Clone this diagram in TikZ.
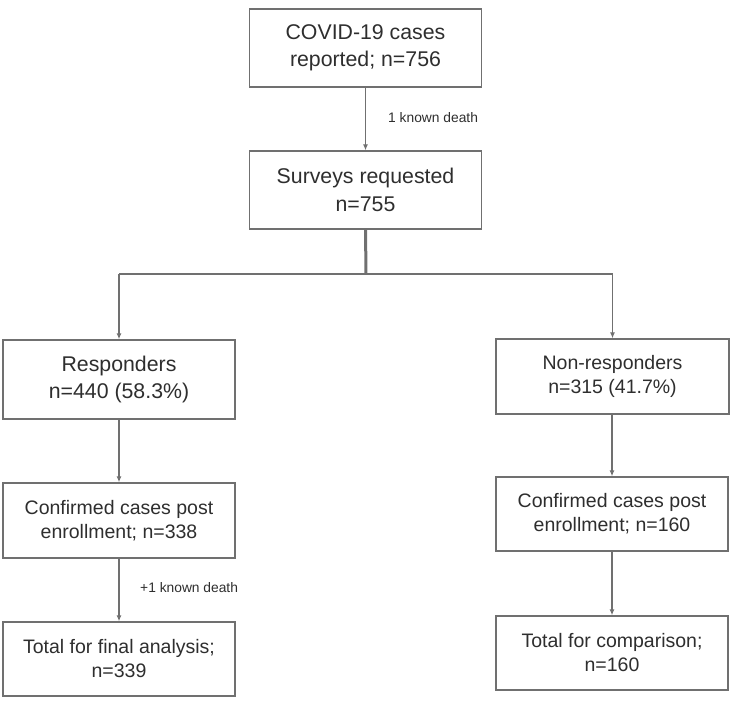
\documentclass[tikz,border=0pt]{standalone}
\usepackage{fontspec}
\setmainfont{Liberation Sans}
\usetikzlibrary{arrows.meta}
\definecolor{boxline}{HTML}{707070}
\definecolor{txt}{HTML}{2E2E2E}
\begin{document}
\begin{tikzpicture}[x=1pt,y=-1pt,
  boxbig/.style={draw=boxline,line width=1.3pt,align=center,inner sep=0pt,
    text=txt,font=\fontsize{21.3}{27.5}\selectfont,minimum width=232pt},
  boxsmall/.style={draw=boxline,line width=1.3pt,align=center,inner sep=0pt,
    text=txt,font=\fontsize{19.5}{24}\selectfont,minimum width=232pt},
  conn/.style={draw=boxline,line width=1.2pt,-{Latex[length=6pt,width=5pt]}},
  lbl/.style={text=txt,font=\fontsize{13.8}{16}\selectfont,anchor=west,inner sep=0pt}]
\useasboundingbox (0,0) rectangle (735,703);
\node[boxbig,minimum height=78pt] (cov) at (365.5,48) {COVID-19 cases\\reported; n=756};
\node[boxbig,minimum height=78pt] (sur) at (365.5,190) {Surveys requested\\n=755};
\node[boxbig,minimum height=79pt] (resp) at (119,379.5) {Responders\\n=440 (58.3\%)};
\node[boxsmall,minimum height=75pt,minimum width=233pt] (nonr) at (612.5,376.5) {Non-responders\\n=315 (41.7\%)};
\node[boxsmall,minimum height=75pt] (confl) at (119,520.5) {Confirmed cases post\\enrollment; n=338};
\node[boxsmall,minimum height=74pt] (finl) at (119,659) {Total for final analysis;\\n=339};
\node[boxsmall,minimum height=74pt] (confr) at (612,514) {Confirmed cases post\\enrollment; n=160};
\node[boxsmall,minimum height=74pt] (compr) at (612,653) {Total for comparison;\\n=160};
\coordinate (br) at (366,274);
\coordinate (bl) at (resp.north |- br);
\coordinate (brr) at (nonr.north |- br);
\draw[conn] (cov) -- (sur);
\node[lbl] (d1) at (388,118) {1 known death};
\draw[draw=boxline,line width=3pt] (sur.south) -- (br);
\draw[draw=boxline,line width=1.2pt] (bl) -- (brr);
\draw[conn] (bl) -- (resp.north);
\draw[conn] (brr) -- (nonr.north);
\draw[conn] (resp) -- (confl);
\draw[conn] (confl) -- (finl);
\node[lbl] (d2) at (140,588) {+1 known death};
\draw[conn] (nonr.south -| confr.north) -- (confr.north);
\draw[conn] (confr) -- (compr);
\end{tikzpicture}
\end{document}
